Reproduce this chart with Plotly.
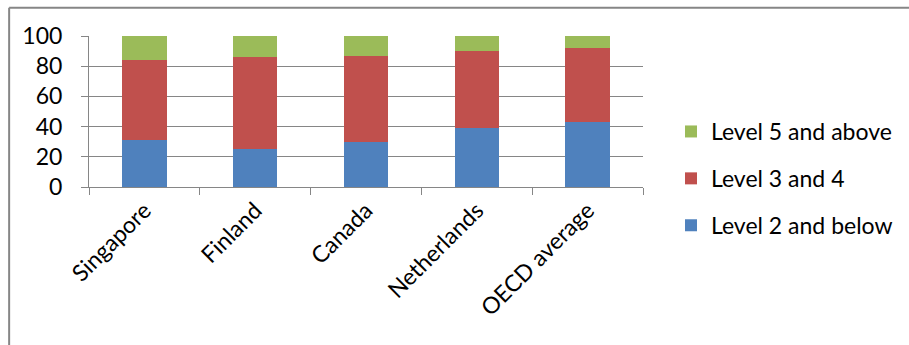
import plotly.graph_objects as go

categories = ["Singapore", "Finland", "Canada", "Netherlands", "OECD average"]
level2_below = [31, 25, 30, 39, 43]
level3_4 = [53, 61, 57, 51, 49]
level5_above = [16, 14, 13, 10, 8]

W, H = 909, 345
L, R, T, B = 89, 644, 35.5, 187.5
FONT = "Lato"
FS = 23

fig = go.Figure()
series = [
    ("Level 2 and below", level2_below, "#4F81BD", 3),
    ("Level 3 and 4", level3_4, "#C0504D", 2),
    ("Level 5 and above", level5_above, "#9BBB59", 1),
]
for name, vals, col, rank in series:
    fig.add_trace(go.Bar(
        x=categories, y=vals, name=name, marker_color=col,
        marker_line_width=0, legendgroup=name, legendrank=rank,
    ))

def px_x(p):
    return (p - L) / (R - L)

def px_y(p):
    return (B - p) / (B - T)

fig.update_layout(
    width=W, height=H,
    barmode="stack", bargap=0.6,
    plot_bgcolor="white", paper_bgcolor="white",
    margin=dict(l=L, r=W - R, t=T, b=H - B, pad=0),
    font=dict(family=FONT, size=FS, color="black"),
    showlegend=True,
    legend=dict(
        x=px_x(671), y=px_y(110), xanchor="left", yanchor="top",
        traceorder="grouped", tracegroupgap=14,
        font=dict(family=FONT, size=FS, color="black"),
        itemwidth=30, bgcolor="rgba(0,0,0,0)",
    ),
    xaxis=dict(
        type="category", tickson="boundaries", ticks="outside", ticklen=7,
        tickcolor="#868686", showline=True, linecolor="#868686", linewidth=1,
        tickangle=-45, showgrid=False, tickfont=dict(size=FS),
    ),
    yaxis=dict(
        range=[0, 100], dtick=20, ticks="outside", ticklen=7, tickcolor="#868686",
        showgrid=True, gridcolor="#868686", gridwidth=1,
        showline=True, linecolor="#868686", linewidth=1,
        zeroline=False, tickfont=dict(size=FS), ticklabelstandoff=14,
    ),
    shapes=[
        dict(type="line", xref="paper", yref="paper",
             x0=px_x(9), x1=px_x(W + 2), y0=px_y(7), y1=px_y(7),
             line=dict(color="#868686", width=2)),
        dict(type="line", xref="paper", yref="paper",
             x0=px_x(9), x1=px_x(9), y0=px_y(7), y1=px_y(H + 2),
             line=dict(color="#868686", width=2)),
    ],
)

fig.write_html("out.html")
